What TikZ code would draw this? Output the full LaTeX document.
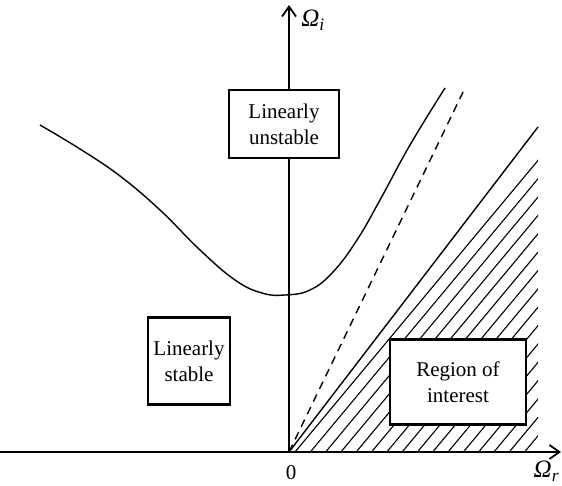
\documentclass[tikz,border=0pt]{standalone}
\usepackage{fontspec}
\setmainfont{Liberation Serif}
\usetikzlibrary{arrows.meta}
\begin{document}
\begin{tikzpicture}[x=0.5pt,y=-0.5pt]
\tikzset{regionbox/.style={draw,line width=1.3pt,fill=white,align=center,inner sep=0pt,
                           font=\fontsize{10.5}{13}\selectfont},
         axis/.style={-{Straight Barb[length=5pt,width=7pt]},line width=0.9pt},
         axislabel/.style={font=\fontsize{12.5}{14}\selectfont\itshape,inner sep=1pt},
         curve/.style={line width=0.7pt},
         hatch/.style={line width=0.55pt}}
\useasboundingbox (0,0) rectangle (562,486);

% axes
\coordinate (O) at (289,452);
\coordinate (xstart) at (0,452);
\coordinate (xend) at (561,452);
\coordinate (yend) at (289,5);
\coordinate (edge) at (538,127);
\coordinate (corner) at (538,452);
\coordinate (dashend) at (465,88);

% hatched region of interest, below the line O--edge
\begin{scope}
    \clip (O) -- (edge) -- (corner) -- cycle;
    \foreach \x in {295,310.3,...,560}
    {
        \draw[hatch] (\x,452) -- ++(320,-384);
    }
\end{scope}
\draw[curve] (O) -- (edge);
\draw[curve,dash pattern=on 4pt off 3pt] (O) -- (dashend);

\draw[axis] (xstart) -- (xend);
\draw[axis] (O) -- (yend);
\node[font=\fontsize{10.5}{13}\selectfont] (zero) at (291,473) {0};
\node[axislabel,anchor=west] (wi) at (299,20) {Ω\textsubscript{i}};
\node[axislabel,anchor=east] (wr) at (562,471) {Ω\textsubscript{r}};

% the stability boundary
\draw[curve] plot[smooth,tension=0.7] coordinates {(40,125) (80,149) (120,176) (160,210) (200,250)
    (235,280) (262,293) (285,295) (310,290) (333,272) (357,240) (380,200) (410,145) (445,88)};

% the three regions
\node[regionbox,minimum width=55pt,minimum height=34pt] (unstable) at (284,124) {Linearly\\unstable};
\node[regionbox,minimum width=41pt,minimum height=43.5pt] (stable) at (189,361) {Linearly\\stable};
\node[regionbox,minimum width=68pt,minimum height=42.5pt] (interest) at (458,382) {Region of\\interest};
\end{tikzpicture}
\end{document}
